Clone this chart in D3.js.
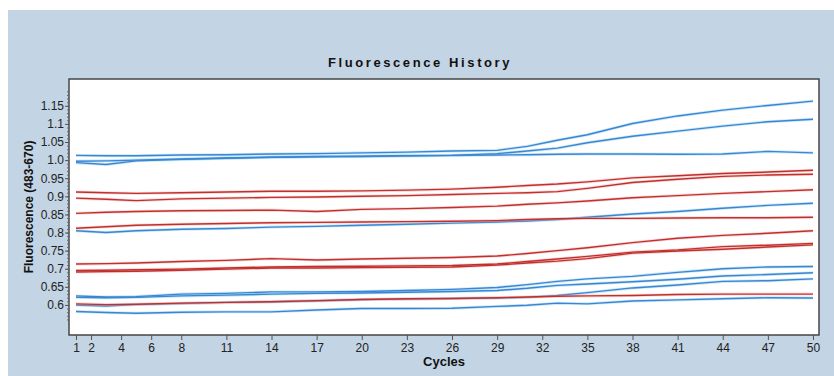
<!DOCTYPE html>
<html>
<head>
<meta charset="utf-8">
<script src="https://cdn.jsdelivr.net/npm/d3@7"></script>
<style>
  html, body { margin: 0; padding: 0; background: #ffffff; }
  svg { display: block; font-family: "Liberation Sans", Arial, sans-serif; }
</style>
</head>
<body>
<svg id="chart" width="834" height="376"></svg>
<script>
// Cycles at which each curve was read
const cycles = [1, 3, 5, 8, 11, 14, 17, 20, 23, 26, 29, 31, 33, 35, 38, 41, 44, 47, 50];

// Blue curves (fluorescence 483-670)
const blue1 = [1.013, 1.012, 1.012, 1.014, 1.015, 1.017, 1.018, 1.020, 1.022, 1.025, 1.027, 1.038, 1.055, 1.070, 1.101, 1.122, 1.138, 1.151, 1.163];
const blue2 = [0.997, 0.998, 1.000, 1.003, 1.006, 1.008, 1.010, 1.011, 1.012, 1.013, 1.018, 1.025, 1.033, 1.048, 1.066, 1.080, 1.094, 1.106, 1.113];
const blue3 = [0.993, 0.988, 0.998, 1.002, 1.005, 1.008, 1.009, 1.010, 1.012, 1.013, 1.014, 1.015, 1.016, 1.017, 1.017, 1.016, 1.017, 1.024, 1.020];
const blue4 = [0.805, 0.800, 0.805, 0.809, 0.811, 0.815, 0.817, 0.820, 0.823, 0.826, 0.829, 0.832, 0.836, 0.842, 0.851, 0.858, 0.867, 0.875, 0.881];
const blue5 = [0.625, 0.622, 0.623, 0.630, 0.632, 0.636, 0.636, 0.637, 0.640, 0.643, 0.648, 0.656, 0.665, 0.672, 0.679, 0.690, 0.700, 0.705, 0.706];
const blue6 = [0.621, 0.620, 0.621, 0.625, 0.627, 0.630, 0.632, 0.633, 0.635, 0.637, 0.640, 0.646, 0.654, 0.658, 0.664, 0.671, 0.680, 0.684, 0.689];
const blue7 = [0.600, 0.597, 0.601, 0.604, 0.607, 0.609, 0.611, 0.615, 0.616, 0.618, 0.619, 0.621, 0.626, 0.634, 0.647, 0.655, 0.665, 0.667, 0.672];
const blue8 = [0.582, 0.579, 0.577, 0.580, 0.581, 0.581, 0.586, 0.590, 0.590, 0.591, 0.596, 0.599, 0.605, 0.603, 0.611, 0.614, 0.617, 0.620, 0.619];

// Red curves
const red1 = [0.912, 0.910, 0.908, 0.910, 0.912, 0.914, 0.914, 0.915, 0.917, 0.920, 0.925, 0.930, 0.934, 0.940, 0.951, 0.957, 0.963, 0.967, 0.972];
const red2 = [0.895, 0.892, 0.888, 0.893, 0.895, 0.897, 0.898, 0.900, 0.902, 0.905, 0.908, 0.910, 0.913, 0.922, 0.938, 0.947, 0.955, 0.959, 0.961];
const red3 = [0.853, 0.856, 0.858, 0.860, 0.861, 0.862, 0.858, 0.864, 0.866, 0.869, 0.873, 0.878, 0.882, 0.887, 0.896, 0.902, 0.908, 0.913, 0.918];
const red4 = [0.812, 0.816, 0.820, 0.823, 0.825, 0.827, 0.828, 0.829, 0.830, 0.831, 0.833, 0.836, 0.838, 0.839, 0.839, 0.840, 0.841, 0.841, 0.842];
const red5 = [0.713, 0.714, 0.716, 0.720, 0.723, 0.728, 0.724, 0.727, 0.729, 0.731, 0.735, 0.742, 0.750, 0.758, 0.772, 0.784, 0.792, 0.798, 0.805];
const red6 = [0.695, 0.696, 0.697, 0.699, 0.702, 0.705, 0.706, 0.707, 0.708, 0.709, 0.713, 0.720, 0.727, 0.734, 0.746, 0.752, 0.761, 0.765, 0.770];
const red7 = [0.691, 0.692, 0.693, 0.696, 0.699, 0.702, 0.702, 0.703, 0.704, 0.705, 0.710, 0.716, 0.721, 0.728, 0.743, 0.749, 0.754, 0.760, 0.766];
const red8 = [0.603, 0.601, 0.602, 0.605, 0.607, 0.609, 0.612, 0.615, 0.617, 0.618, 0.620, 0.622, 0.624, 0.625, 0.626, 0.629, 0.630, 0.630, 0.630];

// Axis ticks
const xTicks = [1, 2, 4, 6, 8, 11, 14, 17, 20, 23, 26, 29, 32, 35, 38, 41, 44, 47, 50];
const yTicks = [0.6, 0.65, 0.7, 0.75, 0.8, 0.85, 0.9, 0.95, 1.0, 1.05, 1.1, 1.15];
const yTickLabels = ["0.6", "0.65", "0.7", "0.75", "0.8", "0.85", "0.9", "0.95", "1.0", "1.05", "1.1", "1.15"];

const blueSeries = [blue1, blue2, blue3, blue4, blue5, blue6, blue7, blue8];
const redSeries = [red1, red2, red3, red4, red5, red6, red7, red8];

const svg = d3.select("#chart");
const plot = { left: 69, right: 819, top: 79, bottom: 335 };

// Panel background
svg.append("rect").attr("x", 8).attr("y", 10).attr("width", 826).attr("height", 366)
  .attr("fill", "#c3d4e4");

// Title
svg.append("text")
  .attr("x", 420).attr("y", 66.5)
  .attr("text-anchor", "middle")
  .attr("font-size", 13).attr("font-weight", "bold")
  .attr("letter-spacing", 2.6)
  .attr("fill", "#111")
  .text("Fluorescence History");

// Plot background
svg.append("rect")
  .attr("x", plot.left).attr("y", plot.top)
  .attr("width", plot.right - plot.left).attr("height", plot.bottom - plot.top)
  .attr("fill", "#ffffff");

const x = d3.scaleLinear().domain([0.535, 50.4]).range([plot.left, plot.right]);
const y = d3.scaleLinear().domain([0.517, 1.224]).range([plot.bottom, plot.top]);

// Curves
const line = d3.line()
  .x((d, i) => x(cycles[i]))
  .y(d => y(d));

const curves = svg.append("g");
function drawCurves(series, core, halo) {
  series.forEach(vals => {
    curves.append("path").attr("d", line(vals))
      .attr("fill", "none").attr("stroke", halo).attr("stroke-width", 3)
      .attr("stroke-opacity", 0.45).attr("stroke-linejoin", "round");
  });
  series.forEach(vals => {
    curves.append("path").attr("d", line(vals))
      .attr("fill", "none").attr("stroke", core).attr("stroke-width", 1.4)
      .attr("stroke-linejoin", "round");
  });
}
drawCurves(blueSeries, "#3a86d2", "#8fcbf0");
drawCurves(redSeries, "#c2302c", "#f0a8a8");

// Frame
svg.append("rect")
  .attr("x", plot.left).attr("y", plot.top)
  .attr("width", plot.right - plot.left).attr("height", plot.bottom - plot.top)
  .attr("fill", "none").attr("stroke", "#454545").attr("stroke-width", 1.5);

// Y axis with minor ticks every 0.01
const minor = d3.range(56, 120).map(v => v / 100);
const yAxisMinor = d3.axisLeft(y).tickValues(minor).tickSize(2).tickFormat("");
svg.append("g").attr("transform", `translate(${plot.left},0)`).call(yAxisMinor)
  .call(g => g.select(".domain").remove())
  .call(g => g.selectAll("line").attr("stroke", "#666"));

const yAxis = d3.axisLeft(y).tickValues(yTicks).tickSize(4).tickPadding(1)
  .tickFormat((d, i) => yTickLabels[i]);
svg.append("g").attr("transform", `translate(${plot.left},0)`).call(yAxis)
  .call(g => g.select(".domain").remove())
  .call(g => g.selectAll("line").attr("stroke", "#555"))
  .call(g => g.selectAll("text").attr("font-size", 12).attr("fill", "#222")
    .attr("font-family", "'Liberation Sans', Arial, sans-serif"));

// X axis
const xAxis = d3.axisBottom(x).tickValues(xTicks).tickSize(5).tickPadding(3);
svg.append("g").attr("transform", `translate(0,${plot.bottom})`).call(xAxis)
  .call(g => g.select(".domain").remove())
  .call(g => g.selectAll("line").attr("stroke", "#555"))
  .call(g => g.selectAll("text").attr("font-size", 12).attr("fill", "#222")
    .attr("font-family", "'Liberation Sans', Arial, sans-serif"));

// Axis titles
svg.append("text")
  .attr("x", 444).attr("y", 366)
  .attr("text-anchor", "middle")
  .attr("font-size", 13).attr("font-weight", "bold").attr("fill", "#111")
  .text("Cycles");

svg.append("text")
  .attr("transform", "translate(33,207) rotate(-90)")
  .attr("text-anchor", "middle")
  .attr("font-size", 12).attr("font-weight", "bold").attr("fill", "#111")
  .text("Fluorescence (483-670)");
</script>
</body>
</html>
